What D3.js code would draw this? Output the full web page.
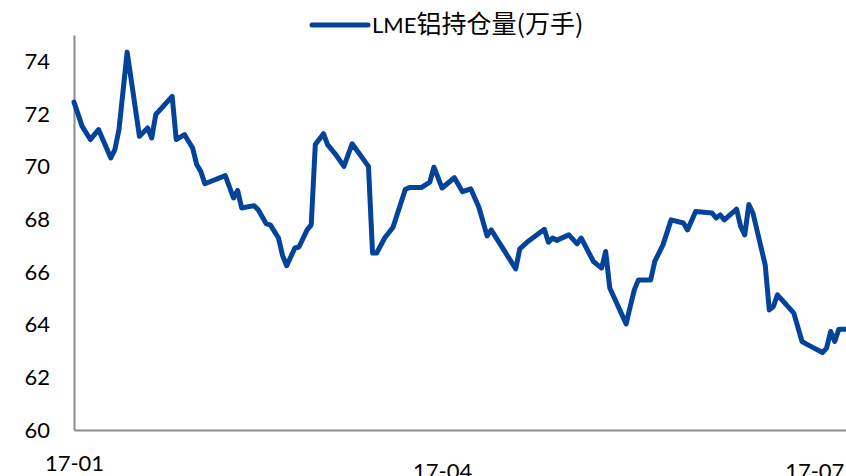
<!DOCTYPE html>
<html>
<head>
<meta charset="utf-8">
<script src="https://cdn.jsdelivr.net/npm/d3@7"></script>
<style>
  body { margin: 0; background: #fff; }
</style>
</head>
<body>
<script>
// LME aluminium open interest (10k lots), daily
const dates = [
  '2017-01-01', '2017-01-03', '2017-01-05', '2017-01-07', '2017-01-10', '2017-01-11',
  '2017-01-12', '2017-01-14', '2017-01-17', '2017-01-19', '2017-01-20', '2017-01-21',
  '2017-01-25', '2017-01-26', '2017-01-28', '2017-01-30', '2017-01-31', '2017-02-01',
  '2017-02-02', '2017-02-07', '2017-02-09', '2017-02-10', '2017-02-11', '2017-02-14',
  '2017-02-15', '2017-02-17', '2017-02-18', '2017-02-20', '2017-02-21', '2017-02-22',
  '2017-02-24', '2017-02-25', '2017-02-27', '2017-02-28', '2017-03-01', '2017-03-03',
  '2017-03-04', '2017-03-06', '2017-03-08', '2017-03-10', '2017-03-14', '2017-03-15',
  '2017-03-16', '2017-03-18', '2017-03-20', '2017-03-23', '2017-03-24', '2017-03-27',
  '2017-03-29', '2017-03-30', '2017-04-01', '2017-04-04', '2017-04-06', '2017-04-08',
  '2017-04-10', '2017-04-12', '2017-04-13', '2017-04-19', '2017-04-20', '2017-04-22',
  '2017-04-26', '2017-04-27', '2017-04-28', '2017-04-29', '2017-05-02', '2017-05-04',
  '2017-05-05', '2017-05-08', '2017-05-09', '2017-05-10', '2017-05-11', '2017-05-12',
  '2017-05-16', '2017-05-17', '2017-05-18', '2017-05-19', '2017-05-22', '2017-05-23',
  '2017-05-25', '2017-05-27', '2017-05-30', '2017-05-31', '2017-06-02', '2017-06-06',
  '2017-06-07', '2017-06-08', '2017-06-09', '2017-06-12', '2017-06-13', '2017-06-14',
  '2017-06-15', '2017-06-16', '2017-06-19', '2017-06-20', '2017-06-21', '2017-06-22',
  '2017-06-26', '2017-06-28', '2017-06-29', '2017-07-03', '2017-07-04', '2017-07-05',
  '2017-07-06', '2017-07-07', '2017-07-09'
];

const values = [
  72.45, 71.53, 71.03, 71.41, 70.33, 70.65,
  71.41, 74.35, 71.15, 71.47, 71.09, 71.98,
  72.67, 71.03, 71.22, 70.71, 70.08, 69.82,
  69.35, 69.66, 68.81, 69.10, 68.43, 68.52,
  68.37, 67.83, 67.79, 67.29, 66.62, 66.24,
  66.91, 66.95, 67.60, 67.79, 70.84, 71.25,
  70.84, 70.46, 70.01, 70.87, 70.01, 66.72,
  66.72, 67.30, 67.70, 69.13, 69.21, 69.21,
  69.41, 69.98, 69.19, 69.58, 69.05, 69.16,
  68.46, 67.37, 67.60, 66.12, 66.88, 67.16,
  67.62, 67.13, 67.29, 67.20, 67.41, 67.07,
  67.29, 66.40, 66.27, 66.15, 66.78, 65.39,
  64.03, 64.69, 65.32, 65.70, 65.70, 66.40,
  67.03, 67.98, 67.86, 67.60, 68.30, 68.24,
  68.05, 68.17, 67.98, 68.39, 67.73, 67.41,
  68.56, 68.24, 66.27, 64.56, 64.69, 65.13,
  64.44, 63.36, 63.27, 62.94, 63.11, 63.74,
  63.36, 63.83, 63.83
];

const xTicks = ['2017-01-01', '2017-04-01', '2017-07-01'];
const yTicks = [60, 62, 64, 66, 68, 70, 72, 74];
const seriesName = 'LME铝持仓量(万手)';

const width = 846;
const height = 476;
const lineColor = '#04439a';
const axisColor = '#8c8c8c';
const font = 'Lato, "Liberation Sans", sans-serif';

const parse = d3.timeParse('%Y-%m-%d');
const data = dates.map((d, i) => ({ date: parse(d), value: values[i] }));

const svg = d3
  .select('body')
  .append('svg')
  .attr('width', width)
  .attr('height', height)
  .style('display', 'block');

// SCALES
const xScale = d3
  .scaleTime()
  .domain([parse('2017-01-01'), parse('2017-07-09')])
  .range([74, 847]);

const yScale = d3.scaleLinear().domain([60, 75]).range([430, 35]);

// Y-AXIS
const yAxis = svg
  .append('g')
  .attr('transform', 'translate(74,0)')
  .call(
    d3.axisLeft(yScale).tickValues(yTicks).tickSize(0).tickSizeOuter(0).tickPadding(24)
  );

// X-AXIS
const xAxis = svg
  .append('g')
  .attr('transform', 'translate(0,430)')
  .call(
    d3
      .axisBottom(xScale)
      .tickValues(xTicks.map(parse))
      .tickFormat(d3.timeFormat('%y-%m'))
      .tickSize(0)
      .tickSizeOuter(0)
      .tickPadding(33)
  );

[yAxis, xAxis].forEach(g => {
  g.select('.domain').attr('stroke', axisColor).attr('stroke-width', 2);
  g.selectAll('text')
    .attr('fill', '#000')
    .style('font-family', font)
    .style('font-size', '22px');
});

// first date label sits a little higher in the original
xAxis.select('.tick text').attr('dy', '0.35em');

// THE LINE
const line = d3
  .line()
  .x(d => xScale(d.date))
  .y(d => yScale(d.value));

svg
  .append('path')
  .datum(data)
  .attr('d', line)
  .attr('fill', 'none')
  .attr('stroke', lineColor)
  .attr('stroke-width', 5)
  .attr('stroke-linejoin', 'round')
  .attr('stroke-linecap', 'round');

// LEGEND
const legend = svg.append('g').attr('transform', 'translate(312,25)');

legend
  .append('line')
  .attr('x1', 0)
  .attr('x2', 56)
  .attr('stroke', lineColor)
  .attr('stroke-width', 5)
  .attr('stroke-linecap', 'round');

const legendText = legend
  .append('text')
  .attr('x', 60)
  .attr('y', 8)
  .attr('fill', '#000');

legendText
  .append('tspan')
  .style('font-family', font)
  .style('font-size', '22px')
  .text(seriesName.slice(0, 3));

legendText
  .append('tspan')
  .style('font-family', '"Noto Sans CJK SC", sans-serif')
  .style('font-size', '25px')
  .text(seriesName.slice(3));
</script>
</body>
</html>
